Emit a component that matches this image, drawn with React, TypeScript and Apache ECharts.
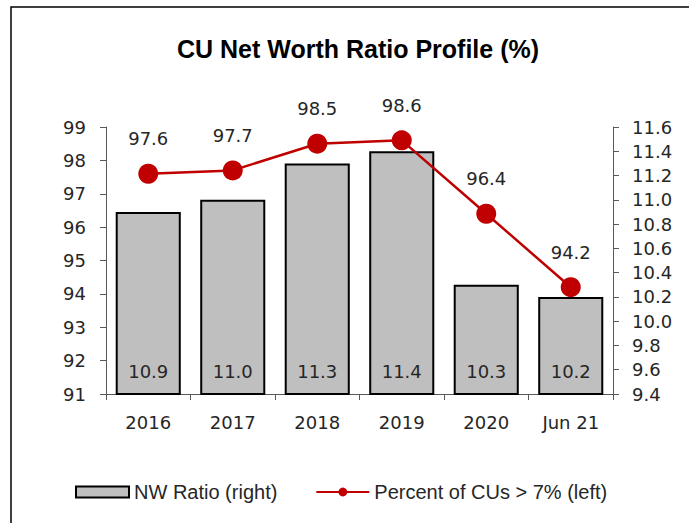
import React, { useEffect, useRef } from "react";
import * as echarts from "echarts";

const categories = ["2016", "2017", "2018", "2019", "2020", "Jun 21"];
const nwRatio = [10.9, 11.0, 11.3, 11.4, 10.3, 10.2];
const pctAbove7 = [97.6, 97.7, 98.5, 98.6, 96.4, 94.2];

const FONT = "'DejaVu Sans', 'Noto Sans', sans-serif";
const SANS = "'Liberation Sans', Arial, sans-serif";

export default function App() {
  const ref = useRef<HTMLDivElement>(null);
  useEffect(() => {
    if (!ref.current) return;
    const chart = echarts.init(ref.current, undefined, { renderer: "svg" });
    chart.setOption({
      animation: false,
      backgroundColor: "#ffffff",
      title: {
        text: "CU Net Worth Ratio Profile (%)",
        left: 172,
        top: 31,
        textStyle: { fontFamily: SANS, fontSize: 25, fontWeight: "bold", color: "#000" },
      },
      graphic: [
        {
          type: "rect",
          shape: { x: 11, y: 7, width: 720, height: 600 },
          style: { fill: "none", stroke: "#000", lineWidth: 1.5 },
          silent: true,
        },
      ],
      legend: {
        top: 477,
        left: 70,
        itemGap: 38,
        textStyle: { fontFamily: SANS, fontSize: 20, color: "#262626" },
        data: [
          {
            name: "NW Ratio (right)",
            icon: "rect",
            itemStyle: { color: "#BFBFBF", borderColor: "#000", borderWidth: 2 },
          },
          { name: "Percent of CUs > 7% (left)" },
        ],
        itemWidth: 53,
        itemHeight: 11,
      },
      grid: { left: 106, right: 76, top: 127, bottom: 129 },
      xAxis: {
        type: "category",
        data: categories,
        axisLine: { lineStyle: { color: "#595959", width: 1 } },
        axisTick: { show: true, alignWithLabel: false, length: 6, lineStyle: { color: "#595959" } },
        axisLabel: { fontFamily: FONT, fontSize: 18, color: "#262626", margin: 19 },
      },
      yAxis: [
        {
          type: "value",
          min: 91,
          max: 99,
          interval: 1,
          position: "left",
          splitLine: { show: false },
          axisLine: { show: true, lineStyle: { color: "#595959" } },
          axisTick: { show: true, length: 6, lineStyle: { color: "#595959" } },
          axisLabel: { fontFamily: FONT, fontSize: 18, color: "#262626", margin: 20 },
        },
        {
          type: "value",
          min: 9.4,
          max: 11.6,
          interval: 0.2,
          position: "right",
          splitLine: { show: false },
          axisLine: { show: true, lineStyle: { color: "#595959" } },
          axisTick: { show: true, length: 6, lineStyle: { color: "#595959" } },
          axisLabel: {
            fontFamily: FONT,
            fontSize: 18,
            color: "#262626",
            margin: 19,
            formatter: (v: number) => v.toFixed(1),
          },
        },
      ],
      series: [
        {
          name: "NW Ratio (right)",
          type: "bar",
          yAxisIndex: 1,
          data: nwRatio,
          barCategoryGap: "23%",
          itemStyle: { color: "#BFBFBF", borderColor: "#000", borderWidth: 2 },
          label: {
            show: true,
            position: "insideBottom",
            distance: 15,
            fontFamily: FONT,
            fontSize: 18,
            color: "#262626",
            formatter: (p: any) => Number(p.value).toFixed(1),
          },
        },
        {
          name: "Percent of CUs > 7% (left)",
          type: "line",
          yAxisIndex: 0,
          data: pctAbove7,
          symbol: "circle",
          symbolSize: 20,
          lineStyle: { color: "#C00000", width: 2.5 },
          itemStyle: { color: "#C00000" },
          label: {
            show: true,
            position: "top",
            distance: 16,
            fontFamily: FONT,
            fontSize: 18,
            color: "#262626",
            formatter: (p: any) => Number(p.value).toFixed(1),
          },
        },
      ],
    });
    return () => chart.dispose();
  }, []);
  return <div ref={ref} style={{ position: "fixed", left: 0, top: 0, width: 689, height: 523 }} />;
}
